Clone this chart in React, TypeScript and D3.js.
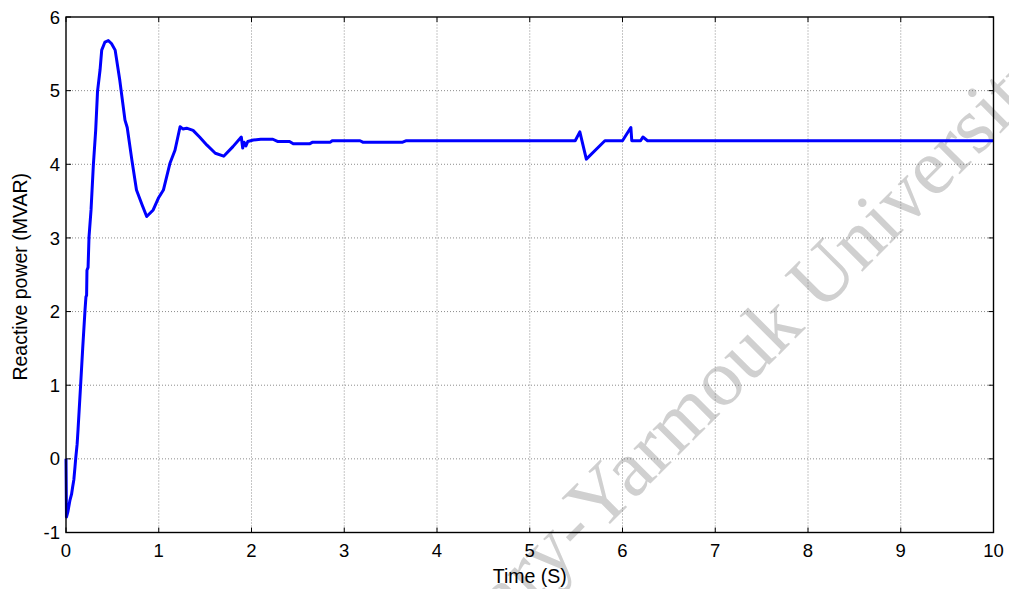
import React from "react";
import * as d3 from "d3";

// Reactive power response (MVAR) over time (s)
const timeS = [
  0, 0.005, 0.02, 0.043, 0.06, 0.072, 0.085, 0.097, 0.105, 0.12, 0.13, 0.158, 0.18, 0.205, 0.215, 0.222,
  0.226, 0.238, 0.248, 0.27, 0.295, 0.32, 0.34, 0.367, 0.385, 0.42, 0.456, 0.49, 0.53, 0.58, 0.636, 0.66,
  0.71, 0.76, 0.82, 0.87, 0.94, 1.0, 1.05, 1.12, 1.175, 1.23, 1.26, 1.3, 1.37, 1.44, 1.52, 1.61, 1.7, 1.8,
  1.89, 1.905, 1.92, 1.94, 1.96, 2.02, 2.1, 2.23, 2.28, 2.41, 2.45, 2.63, 2.66, 2.85, 2.87, 3.17, 3.2,
  3.63, 3.67, 5.49, 5.54, 5.61, 5.81, 6.0, 6.09, 6.1, 6.195, 6.22, 6.27, 10,
];
const reactiveMvar = [
  0, -0.79, -0.72, -0.56, -0.48, -0.38, -0.28, -0.11, 0.01, 0.2, 0.4, 1.01, 1.5, 2.02, 2.2, 2.22,
  2.56, 2.6, 3.01, 3.38, 3.99, 4.46, 4.99, 5.28, 5.55, 5.66, 5.68, 5.64, 5.55, 5.14, 4.6, 4.5,
  4.06, 3.65, 3.45, 3.29, 3.38, 3.55, 3.65, 4.01, 4.19, 4.51, 4.48, 4.49, 4.46, 4.37, 4.26, 4.15, 4.11, 4.24,
  4.37, 4.22, 4.3, 4.25, 4.31, 4.33, 4.34, 4.34, 4.31, 4.31, 4.28, 4.28, 4.3, 4.3, 4.32, 4.32, 4.3,
  4.3, 4.32, 4.32, 4.44, 4.07, 4.32, 4.32, 4.5, 4.32, 4.32, 4.37, 4.32, 4.32,
];
const xTicks = [0, 1, 2, 3, 4, 5, 6, 7, 8, 9, 10];
const yTicks = [-1, 0, 1, 2, 3, 4, 5, 6];

const W = 1009;
const H = 589;
const margin = { top: 17, right: 15.5, bottom: 56.5, left: 66 };
const font = "'Liberation Sans', Arial, sans-serif";

export default function App() {
  const x = d3.scaleLinear().domain([0, 10]).range([margin.left, W - margin.right]);
  const y = d3.scaleLinear().domain([-1, 6]).range([H - margin.bottom, margin.top]);
  const pts = timeS.map((t, i) => [t, reactiveMvar[i]] as [number, number]);
  const line = d3
    .line<[number, number]>()
    .x((d) => x(d[0]))
    .y((d) => y(d[1]));

  const [x0, x1] = x.range();
  const [y0, y1] = y.range();
  const tick = 5;

  return (
    <svg
      width={W}
      height={H}
      style={{ position: "absolute", left: 0, top: 0, background: "#fff" }}
      fontFamily={font}
    >
      {/* watermark */}
      <g
        transform="translate(598,536) rotate(-45)"
        fill="#d0d0d0"
        fontFamily="'Liberation Serif', 'Times New Roman', serif"
        fontSize={80}
      >
        <text textAnchor="end">Arabic Digital Library-</text>
        <text textAnchor="start">Yarmouk University</text>
      </g>

      {/* grid */}
      <g stroke="#6e6e6e" strokeWidth={0.8} strokeDasharray="1,2">
        {xTicks.slice(1, -1).map((t) => (
          <line key={"gx" + t} x1={x(t)} x2={x(t)} y1={y0} y2={y1} />
        ))}
        {yTicks.slice(1, -1).map((t) => (
          <line key={"gy" + t} x1={x0} x2={x1} y1={y(t)} y2={y(t)} />
        ))}
      </g>

      {/* ticks on all four sides, pointing inward */}
      <g stroke="#000" strokeWidth={1}>
        {xTicks.map((t) => (
          <g key={"tx" + t}>
            <line x1={x(t)} x2={x(t)} y1={y0} y2={y0 - tick} />
            <line x1={x(t)} x2={x(t)} y1={y1} y2={y1 + tick} />
          </g>
        ))}
        {yTicks.map((t) => (
          <g key={"ty" + t}>
            <line x1={x0} x2={x0 + tick} y1={y(t)} y2={y(t)} />
            <line x1={x1} x2={x1 - tick} y1={y(t)} y2={y(t)} />
          </g>
        ))}
      </g>

      {/* data */}
      <path d={line(pts) ?? ""} fill="none" stroke="#0000ff" strokeWidth={3} strokeLinejoin="round" />

      {/* axes box */}
      <rect x={x0} y={y1} width={x1 - x0} height={y0 - y1} fill="none" stroke="#000" strokeWidth={1.4} />

      {/* tick labels */}
      <g fontSize={18.5} fill="#000">
        {xTicks.map((t) => (
          <text key={"lx" + t} x={x(t)} y={557} textAnchor="middle">
            {t}
          </text>
        ))}
        {yTicks.map((t) => (
          <text key={"ly" + t} x={x0 - 6} y={y(t) + 6.6} textAnchor="end">
            {t}
          </text>
        ))}
      </g>

      {/* axis titles */}
      <text x={(x0 + x1) / 2} y={583} textAnchor="middle" fontSize={19.5}>
        Time (S)
      </text>
      <text transform={`translate(27,${(y0 + y1) / 2 + 2}) rotate(-90)`} textAnchor="middle" fontSize={19.5}>
        Reactive power (MVAR)
      </text>
    </svg>
  );
}
